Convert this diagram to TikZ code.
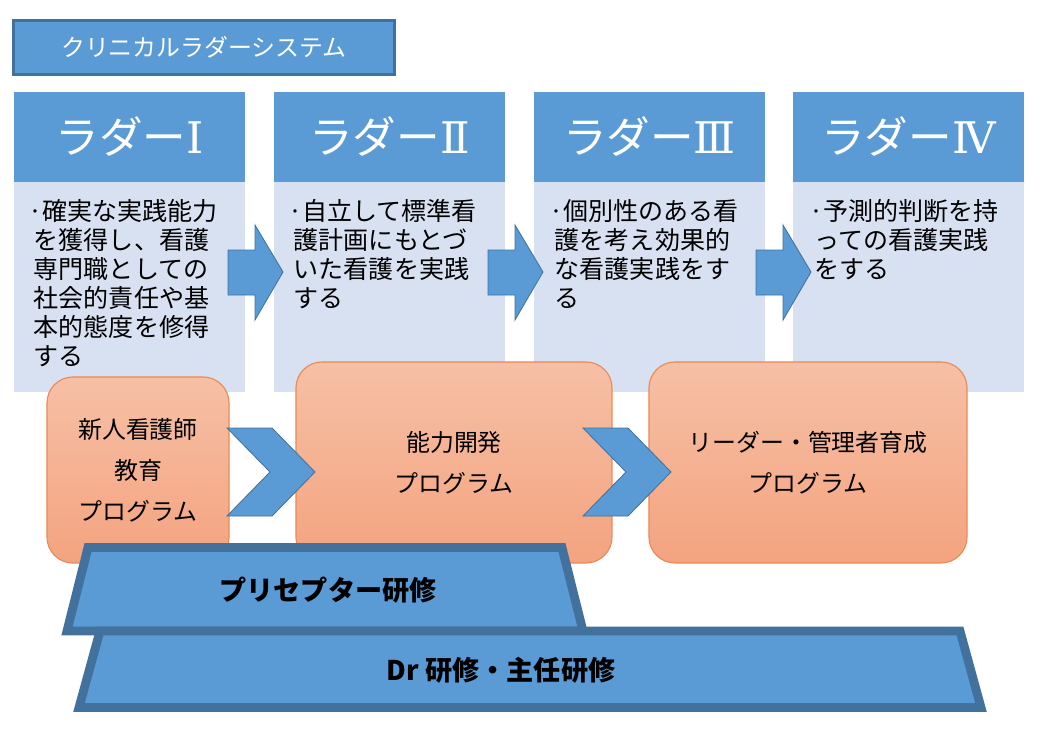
\documentclass[tikz,border=0pt]{standalone}
\usepackage{fontspec}
\setmainfont{Noto Sans CJK JP}
\newfontfamily\numfont{DejaVu Serif}
\usepackage{tikz}

\definecolor{ladblue}{HTML}{5B9BD5}
\definecolor{ladedge}{HTML}{41719C}
\definecolor{ladlight}{HTML}{D7E1F2}
\definecolor{progtop}{HTML}{F6C0A6}
\definecolor{progbot}{HTML}{F4A37F}
\definecolor{progedge}{HTML}{EB8A55}

\tikzset{
  ladhead/.style={fill=ladblue, text=white, minimum width=5.775cm, minimum height=2.25cm, inner sep=0pt, font=\fontsize{31}{33}\selectfont},
  ladbody/.style={fill=ladlight, minimum width=5.775cm, minimum height=5.25cm, inner sep=0pt},
  ladtext/.style={align=left, anchor=north west, inner sep=0pt, font=\fontsize{17.8}{20.6}\selectfont},
  blockarr/.style={fill=ladblue, draw=ladedge, line width=0.6pt},
  progbox/.style={draw=progedge, line width=0.8pt, top color=progtop, bottom color=progbot, rounded corners=0.65cm, align=center, inner sep=0pt, font=\fontsize{17}{29}\selectfont},
  trainbar/.style={fill=ladblue, draw=ladedge, line width=0.22cm, line join=miter},
  traintext/.style={font=\fontsize{19.3}{22}\selectfont\bfseries}
}

\begin{document}
\begin{tikzpicture}[x=0.025cm, y=-0.025cm]
  \useasboundingbox (0,0) rectangle (1040,732);

  % title
  \node[fill=ladblue, draw=ladedge, line width=2.1pt, text=white, minimum width=9.525cm, minimum height=1.35cm, inner sep=0pt, font=\fontsize{17}{20}\selectfont] (title) at (204,47.5) {クリニカルラダーシステム};

  % ladder columns
  \foreach \i/\x/\num in {1/14/Ⅰ, 2/274/Ⅱ, 3/534/Ⅲ, 4/793/Ⅳ} {
    \node[ladhead] (h\i) at ({\x+115.5},137) {ラダー{\numfont\num}};
    \node[ladbody] (b\i) at ({\x+115.5},287) {};
  }
  \node[ladtext] (t1) at (28,199) {·確実な実践能力\\\ を獲得し、看護\\\ 専門職としての\\\ 社会的責任や基\\\ 本的態度を修得\\\ する};
  \node[ladtext] (t2) at (288,199) {·自立して標準看\\\ 護計画にもとづ\\\ いた看護を実践\\\ する};
  \node[ladtext] (t3) at (549,199) {·個別性のある看\\\ 護を考え効果的\\\ な看護実践をす\\\ る};
  \node[ladtext] (t4) at (809,199) {·予測的判断を持\\\ っての看護実践\\\ をする};

  % arrows between columns
  \foreach \a in {228,488,756}
    \draw[blockarr] (\a,250) -- ({\a+27},250) -- ({\a+27},225) -- ({\a+55},272) -- ({\a+27},320) -- ({\a+27},295) -- (\a,295) -- cycle;

  % programs
  \node[progbox, minimum width=4.55cm, minimum height=4.65cm] (p1) at (138,470) {新人看護師\\教育\\プログラム};
  \node[progbox, minimum width=7.9cm, minimum height=5.025cm] (p2) at (454,462.5) {能力開発\\プログラム};
  \node[progbox, minimum width=7.95cm, minimum height=5.025cm] (p3) at (808,462.5) {リーダー・管理者育成\\プログラム};

  % chevrons
  \foreach \c in {227,583}
    \draw[blockarr] (\c,428) -- ({\c+45},428) -- ({\c+88},472) -- ({\c+45},516) -- (\c,516) -- ({\c+43},472) -- cycle;

  % training bars
  \draw[trainbar] (88,547.5) -- (562,547.5) -- (583,631) -- (67,631) -- cycle;
  \draw[trainbar] (100,631) -- (960,631) -- (981,707.5) -- (79,707.5) -- cycle;
  \node[traintext] (pre) at (328,590) {プリセプター研修};
  \node[traintext] (dr) at (501,670) {Dr 研修・主任研修};
\end{tikzpicture}
\end{document}
